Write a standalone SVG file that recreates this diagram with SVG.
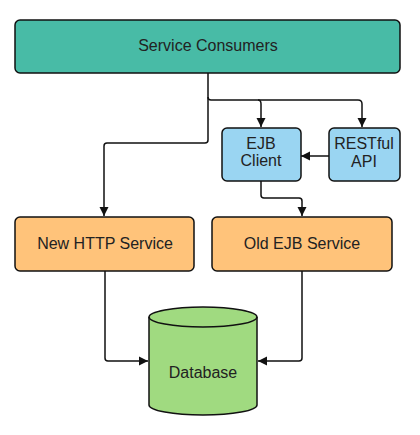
<svg xmlns="http://www.w3.org/2000/svg" width="420" height="435" viewBox="0 0 420 435">
<style>
.box{stroke:#111;stroke-width:1.5}
.t{font-family:"Liberation Sans",Arial,sans-serif;font-size:16px;fill:#222;text-anchor:middle;dominant-baseline:central}
.c{fill:none;stroke:#111;stroke-width:1.5;stroke-linejoin:round}
</style>
<defs>
<marker id="ah" markerWidth="10" markerHeight="10" refX="9" refY="5" orient="auto" markerUnits="userSpaceOnUse">
<path d="M0,0.5 L9,5 L0,9.5 Z" fill="#111"/>
</marker>
</defs>
<rect width="420" height="435" fill="#fff"/>
<g id="connectors">
<path class="c" d="M208,73 V140 Q208,143 205,143 H107 Q104,143 104,146 V216" marker-end="url(#ah)"/>
<path class="c" d="M208,97 Q208,100 211,100 H358 Q362,100 362,104 V127" marker-end="url(#ah)"/>
<path class="c" d="M258,100 Q261,100 261,104 V127" marker-end="url(#ah)"/>
<path class="c" d="M329,156 H301" marker-end="url(#ah)"/>
<path class="c" d="M261,181 V195 Q261,198 264,198 H299 Q302,198 302,201 V216" marker-end="url(#ah)"/>
<path class="c" d="M105,271 V358 Q105,361 108,361 H148" marker-end="url(#ah)"/>
<path class="c" d="M302,271 V358 Q302,361 299,361 H258" marker-end="url(#ah)"/>
</g>
<g id="service-consumers">
<rect class="box" x="15" y="20" width="385" height="53" rx="5" fill="#48BBA6"/>
<text class="t" x="208" y="45">Service Consumers</text>
</g>
<g id="ejb-client">
<rect class="box" x="222" y="128" width="79" height="53" rx="5" fill="#9AD5F2"/>
<text class="t" x="261" y="143">EJB</text>
<text class="t" x="261" y="160">Client</text>
</g>
<g id="restful-api">
<rect class="box" x="329" y="128" width="71" height="53" rx="5" fill="#9AD5F2"/>
<text class="t" x="364" y="143">RESTful</text>
<text class="t" x="364" y="161">API</text>
</g>
<g id="new-http-service">
<rect class="box" x="15" y="217" width="179" height="54" rx="5" fill="#FFC37A"/>
<text class="t" x="105" y="243">New HTTP Service</text>
</g>
<g id="old-ejb-service">
<rect class="box" x="212" y="217" width="180" height="54" rx="5" fill="#FFC37A"/>
<text class="t" x="302" y="243">Old EJB Service</text>
</g>
<g id="database">
<path class="box" d="M149,317 A54,10 0 0 1 257,317 V405 A54,10 0 0 1 149,405 Z" fill="#A0DA80"/>
<path class="box" d="M149,317 A54,10 0 0 0 257,317" fill="none"/>
<text class="t" x="203" y="372">Database</text>
</g>
</svg>
